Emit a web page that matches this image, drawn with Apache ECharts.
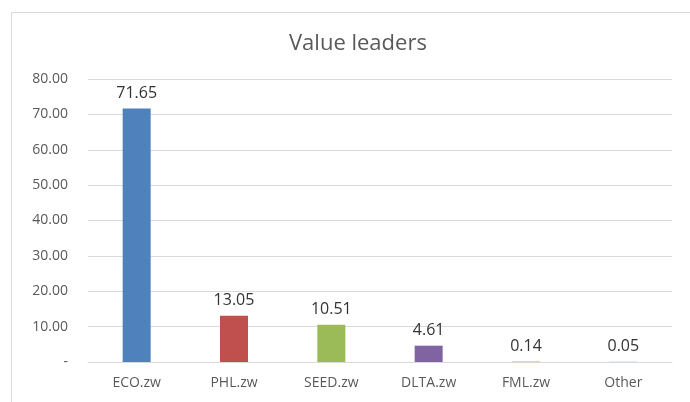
<!DOCTYPE html>
<html>
<head>
<meta charset="utf-8">
<script src="https://cdn.jsdelivr.net/npm/echarts@6/dist/echarts.min.js"></script>
<style>
  html, body { margin: 0; padding: 0; background: #fff; }
  #marco {
    position: absolute; left: 11px; top: 12px; width: 690px; height: 400px;
    border: 1px solid #d9d9d9; box-sizing: border-box;
  }
  #grafico { width: 690px; height: 402px; position: absolute; left: 0; top: 0; }
</style>
</head>
<body>
<div id="marco"></div>
<div id="grafico"></div>
<script>
// datos
const categorias = ["ECO.zw", "PHL.zw", "SEED.zw", "DLTA.zw", "FML.zw", "Other"];
const valores = [71.65, 13.05, 10.51, 4.61, 0.14, 0.05];
const colores = ["#4f81bd", "#c0504d", "#9bbb59", "#8064a2", "#f79646", "#4bacc6"];

const chart = echarts.init(document.getElementById("grafico"), null, { renderer: "canvas" });

const fuente = "'Open Sans', 'DejaVu Sans', sans-serif";

chart.setOption({
  backgroundColor: "transparent",
  animation: false,
  title: {
    text: "Value leaders",
    left: 284,
    top: 28,
    textStyle: { color: "#595959", fontSize: 22, fontWeight: "normal", fontFamily: fuente }
  },
  grid: { left: 88, right: 18, top: 79, bottom: 40 },
  xAxis: {
    type: "category",
    data: categorias,
    axisLine: { show: true, lineStyle: { color: "#d9d9d9" } },
    axisTick: { show: false },
    axisLabel: { color: "#595959", fontSize: 14, margin: 14, fontFamily: fuente }
  },
  yAxis: {
    type: "value",
    min: 0,
    max: 80,
    interval: 10,
    axisLine: { show: false },
    axisTick: { show: false },
    splitLine: { lineStyle: { color: "#d9d9d9" } },
    axisLabel: {
      color: "#595959", fontSize: 14, margin: 20, fontFamily: fuente,
      formatter: v => v === 0 ? "-" : v.toFixed(2)
    }
  },
  series: [{
    type: "bar",
    barWidth: 28,
    data: valores.map((v, i) => ({ value: v, itemStyle: { color: colores[i] } })),
    label: {
      show: true,
      position: "top",
      distance: 7,
      color: "#333333",
      fontSize: 16,
      fontFamily: fuente,
      formatter: p => p.value.toFixed(2)
    }
  }]
});
</script>
</body>
</html>
